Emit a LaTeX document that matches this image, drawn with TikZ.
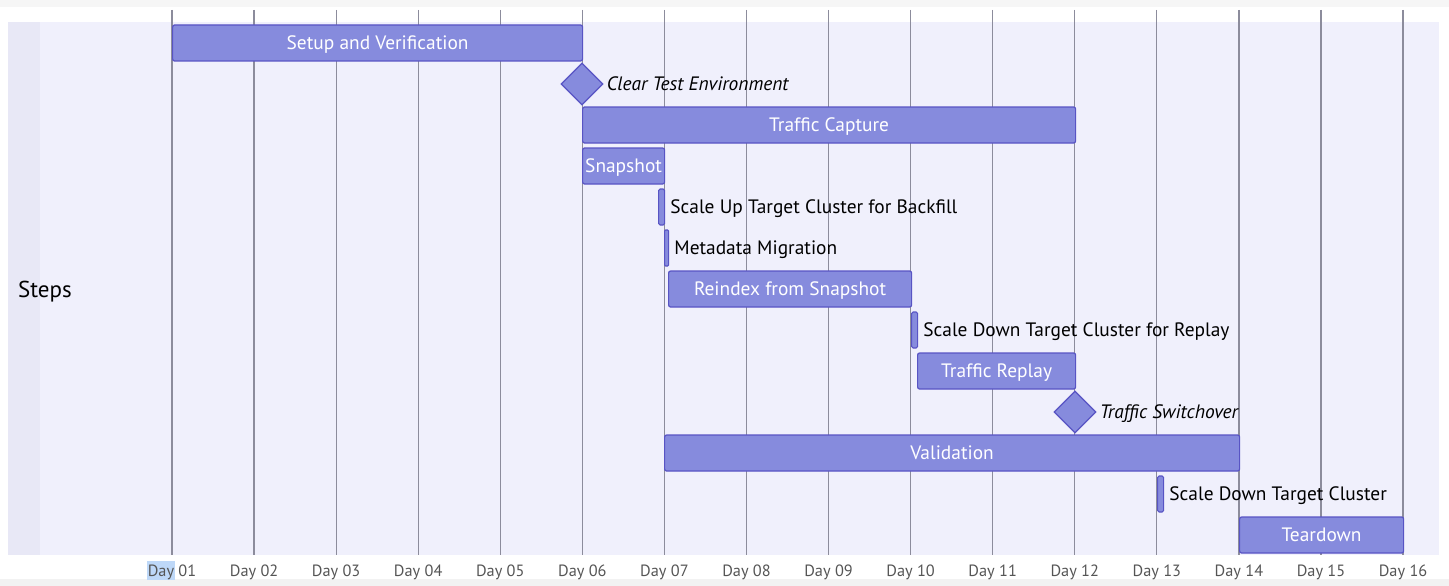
\documentclass[tikz,border=0pt]{standalone}
\usepackage{fontspec}
\setmainfont{PT Sans}
\usetikzlibrary{positioning,shapes.geometric}

\definecolor{sectionbg}{RGB}{240,240,252}
\definecolor{sidebg}{RGB}{232,232,246}
\definecolor{taskfill}{RGB}{134,139,221}
\definecolor{taskline}{RGB}{88,84,196}
\definecolor{gridgray}{RGB}{140,140,156}
\definecolor{ticktext}{RGB}{85,85,85}
\definecolor{selblue}{RGB}{190,216,248}

\tikzset{
  capsalign/.style={text height=13.6pt, text depth=0pt},
  task/.style={draw=taskline, fill=taskfill, line width=1.2pt, rounded corners=2pt,
    minimum height=36pt, inner sep=0pt, anchor=west, text=white, capsalign,
    font=\fontsize{19.4}{19.4}\selectfont},
  mile/.style={diamond, draw=taskline, fill=taskfill, line width=1.2pt,
    minimum width=42pt, minimum height=42pt, inner sep=0pt},
  outlabel/.style={inner sep=0pt, text=black, capsalign, font=\fontsize{19.4}{19.4}\selectfont},
  milelabel/.style={outlabel, font=\fontsize{19.4}{19.4}\selectfont\itshape},
  daylabel/.style={text=ticktext, inner sep=0pt, font=\fontsize{16.3}{16.3}\selectfont},
}

\begin{document}
\begin{tikzpicture}[x=1pt,y=-1pt]
\useasboundingbox (0,0) rectangle (1449,586);
% page frame
\fill[gray!7] (0,0) rectangle (1449,7);
\fill[gray!10] (0,579) rectangle (1449,586);
\fill[sectionbg] (8,22) rectangle (1439,555);
\fill[sidebg] (8,22) rectangle (40,555);
\fill[selblue] (147,561) rectangle (175,580);

% day grid
\foreach \d [count=\i from 0] in {01,02,03,04,05,06,07,08,09,10,11,12,13,14,15,16} {
  \draw[gridgray, line width=1.2pt] ({172+\i*82.07},10) -- ({172+\i*82.07},555);
  \node[daylabel] (day\d) at ({172+\i*82.07},572) {Day \d};
}

\node[font=\fontsize{23}{23}\selectfont, inner sep=0pt, anchor=west] (steps) at (18,292) {Steps};

% tasks
\node[task, minimum width=410pt] (setup) at (172,43) {Setup and Verification};
\node[mile] (clear) at (582,84) {};
\node[milelabel, right=3pt of clear] {Clear Test Environment};
\node[task, minimum width=493pt] (capture) at (582,125) {Traffic Capture};
\node[task, minimum width=82pt] (snapshot) at (582,166) {Snapshot};
\node[task, minimum width=6pt, rounded corners=1.5pt] (scaleup) at (658,207) {};
\node[outlabel, right=5pt of scaleup] {Scale Up Target Cluster for Backfill};
\node[task, minimum width=4pt, rounded corners=1pt] (metadata) at (664,248) {};
\node[outlabel, right=5pt of metadata] {Metadata Migration};
\node[task, minimum width=243pt] (reindex) at (668,289) {Reindex from Snapshot};
\node[task, minimum width=6pt, rounded corners=1.5pt] (scaledown) at (911,330) {};
\node[outlabel, right=5pt of scaledown] {Scale Down Target Cluster for Replay};
\node[task, minimum width=158pt] (replay) at (917,371) {Traffic Replay};
\node[mile] (switch) at (1075,412) {};
\node[milelabel, right=3pt of switch] {Traffic Switchover};
\node[task, minimum width=575pt] (validation) at (664,453) {Validation};
\node[task, minimum width=6pt, rounded corners=1.5pt] (scalefinal) at (1157,494) {};
\node[outlabel, right=5pt of scalefinal] {Scale Down Target Cluster};
\node[task, minimum width=164pt] (teardown) at (1239,535) {Teardown};
\end{tikzpicture}
\end{document}
